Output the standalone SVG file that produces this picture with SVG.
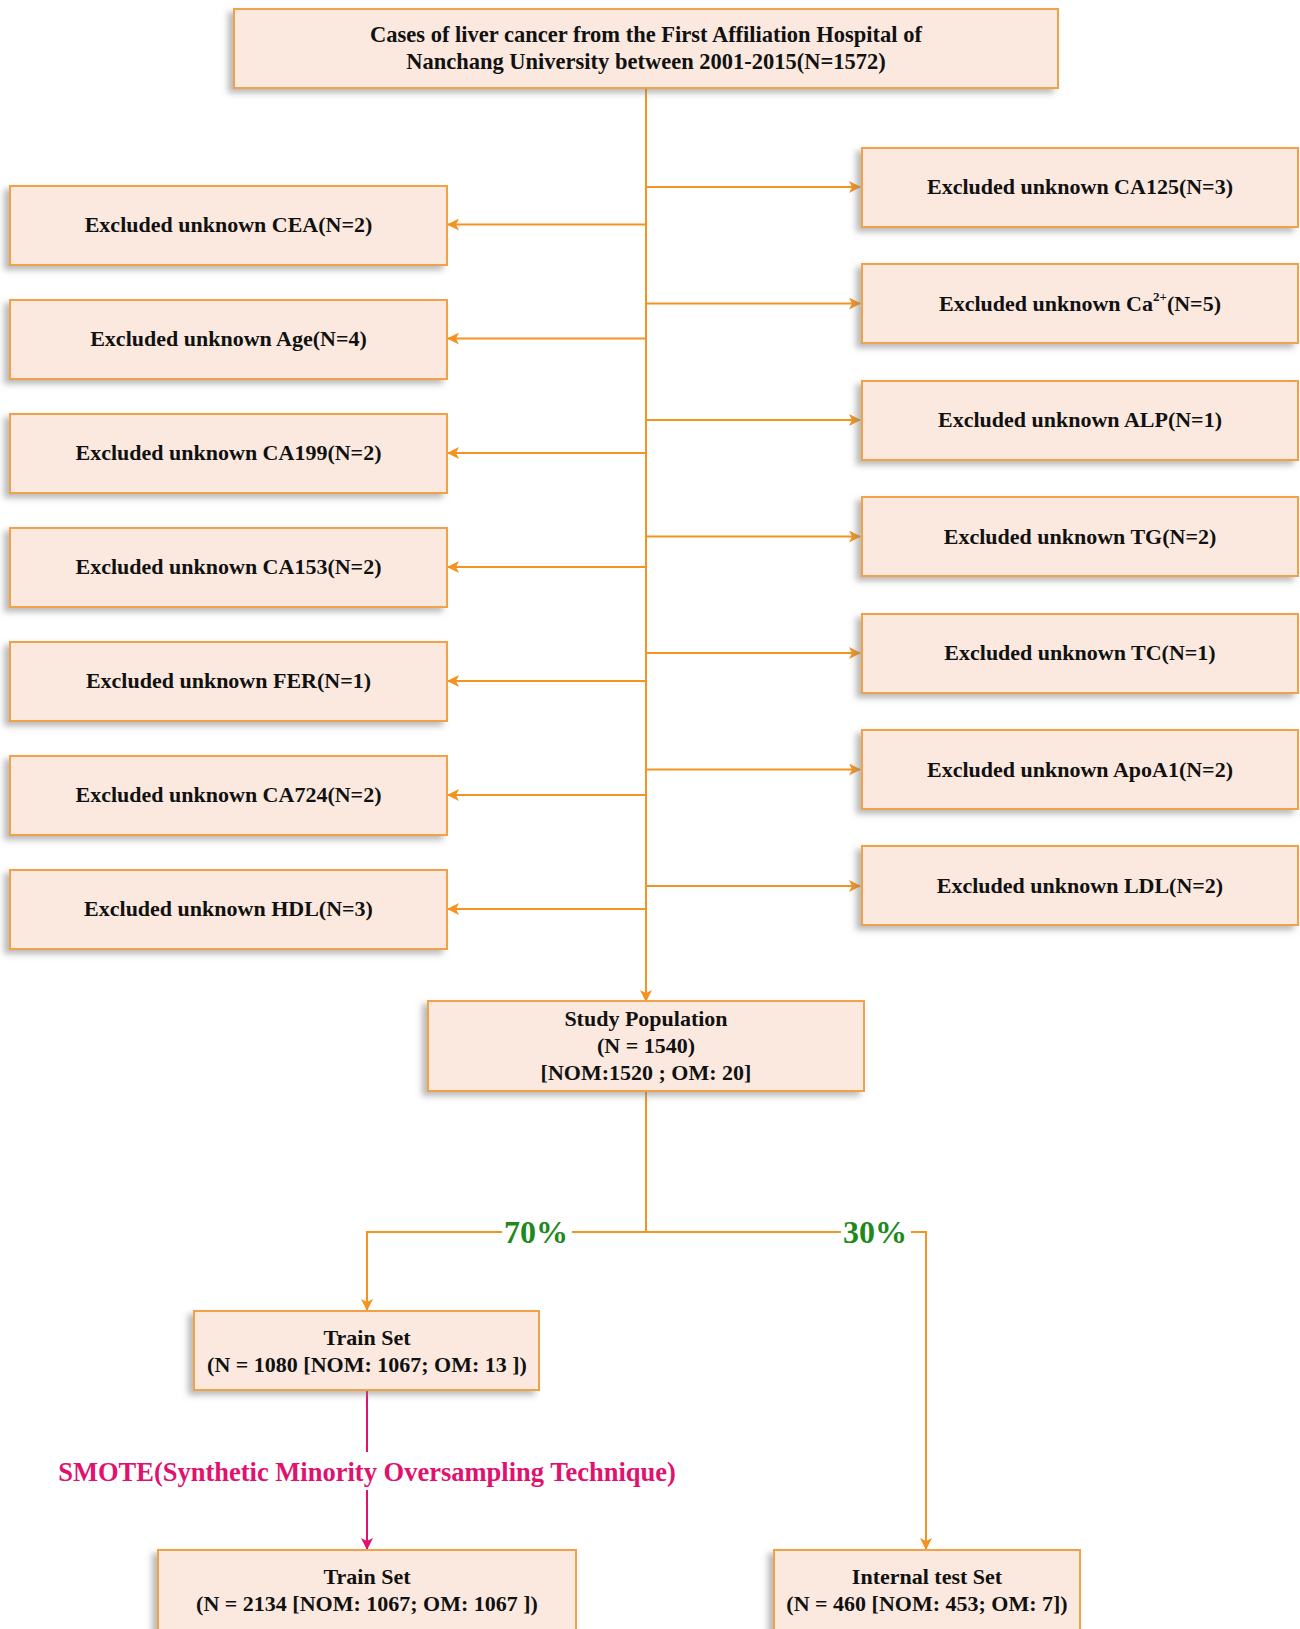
<svg xmlns="http://www.w3.org/2000/svg" width="1300" height="1629" viewBox="0 0 1300 1629">
<defs>
<filter id="sh" x="-10%" y="-20%" width="120%" height="150%">
<feDropShadow dx="-5" dy="4" stdDeviation="3" flood-color="#808080" flood-opacity="0.55"/>
</filter>
<marker id="ao" viewBox="0 0 12 12" refX="11" refY="6" markerWidth="12" markerHeight="12" markerUnits="userSpaceOnUse" orient="auto">
<path d="M0,0 L12,6 L0,12 L3,6 Z" fill="#f39322"/>
</marker>
<marker id="ap" viewBox="0 0 12 12" refX="11" refY="6" markerWidth="12" markerHeight="12" markerUnits="userSpaceOnUse" orient="auto">
<path d="M0,0 L12,6 L0,12 L3,6 Z" fill="#e0126e"/>
</marker>
</defs>
<style>
.box{fill:#fbe9df;stroke:#f0a24a;stroke-width:2;filter:url(#sh)}
.t{font-family:"Liberation Serif","Times New Roman",serif;font-weight:bold;font-size:22px;fill:#111;text-anchor:middle}
.tt{font-size:22.5px}
.c{fill:none;stroke:#f39322;stroke-width:2}
.p{fill:none;stroke:#e0126e;stroke-width:2}
.g{font-family:"Liberation Serif","Times New Roman",serif;font-weight:bold;font-size:32px;fill:#1e8a1e;text-anchor:middle}
.s{font-family:"Liberation Serif","Times New Roman",serif;font-weight:bold;font-size:26.5px;fill:#e0126e;text-anchor:middle}
</style>
<rect width="1300" height="1629" fill="#ffffff"/>
<g id="connectors">
<path class="c" d="M646,88 V1001" marker-end="url(#ao)"/>
<path class="c" d="M646,224.5 H448" marker-end="url(#ao)"/>
<path class="c" d="M646,338.5 H448" marker-end="url(#ao)"/>
<path class="c" d="M646,453 H448" marker-end="url(#ao)"/>
<path class="c" d="M646,567 H448" marker-end="url(#ao)"/>
<path class="c" d="M646,681 H448" marker-end="url(#ao)"/>
<path class="c" d="M646,795 H448" marker-end="url(#ao)"/>
<path class="c" d="M646,909 H448" marker-end="url(#ao)"/>
<path class="c" d="M646,187 H860" marker-end="url(#ao)"/>
<path class="c" d="M646,303.5 H860" marker-end="url(#ao)"/>
<path class="c" d="M646,420 H860" marker-end="url(#ao)"/>
<path class="c" d="M646,536.5 H860" marker-end="url(#ao)"/>
<path class="c" d="M646,653 H860" marker-end="url(#ao)"/>
<path class="c" d="M646,769.5 H860" marker-end="url(#ao)"/>
<path class="c" d="M646,886 H860" marker-end="url(#ao)"/>
<path class="c" d="M646,1091 V1232"/>
<path class="c" d="M646,1232 H367 V1310" marker-end="url(#ao)"/>
<path class="c" d="M646,1232 H926 V1549" marker-end="url(#ao)"/>
<path class="p" d="M367,1390 V1549" marker-end="url(#ap)"/>
<rect x="502" y="1212" width="70" height="40" fill="#fff"/>
<rect x="841" y="1212" width="70" height="40" fill="#fff"/>
<text class="g" x="536" y="1243">70%</text>
<text class="g" x="875" y="1243">30%</text>
<rect x="58" y="1452" width="618" height="38" fill="#fff"/>
<text class="s" x="367" y="1481">SMOTE(Synthetic Minority Oversampling Technique)</text>
</g>
<g id="n_top"><rect class="box" x="234" y="9" width="824" height="79"/>
<text class="t tt" x="646" y="42">Cases of liver cancer from the First Affiliation Hospital of</text>
<text class="t tt" x="646" y="69">Nanchang University between 2001-2015(N=1572)</text></g>
<g id="n_cea"><rect class="box" x="10" y="186" width="437" height="79"/><text class="t" x="228.5" y="232">Excluded unknown CEA(N=2)</text></g>
<g id="n_age"><rect class="box" x="10" y="300" width="437" height="79"/><text class="t" x="228.5" y="346">Excluded unknown Age(N=4)</text></g>
<g id="n_ca199"><rect class="box" x="10" y="414" width="437" height="79"/><text class="t" x="228.5" y="460">Excluded unknown CA199(N=2)</text></g>
<g id="n_ca153"><rect class="box" x="10" y="528" width="437" height="79"/><text class="t" x="228.5" y="574">Excluded unknown CA153(N=2)</text></g>
<g id="n_fer"><rect class="box" x="10" y="642" width="437" height="79"/><text class="t" x="228.5" y="688">Excluded unknown FER(N=1)</text></g>
<g id="n_ca724"><rect class="box" x="10" y="756" width="437" height="79"/><text class="t" x="228.5" y="802">Excluded unknown CA724(N=2)</text></g>
<g id="n_hdl"><rect class="box" x="10" y="870" width="437" height="79"/><text class="t" x="228.5" y="916">Excluded unknown HDL(N=3)</text></g>
<g id="n_ca125"><rect class="box" x="862" y="148" width="436" height="79"/><text class="t" x="1080" y="194">Excluded unknown CA125(N=3)</text></g>
<g id="n_ca2"><rect class="box" x="862" y="264" width="436" height="79"/><text class="t" x="1080" y="311">Excluded unknown Ca<tspan font-size="13" dy="-10">2+</tspan><tspan dy="10">(N=5)</tspan></text></g>
<g id="n_alp"><rect class="box" x="862" y="381" width="436" height="79"/><text class="t" x="1080" y="427">Excluded unknown ALP(N=1)</text></g>
<g id="n_tg"><rect class="box" x="862" y="497" width="436" height="79"/><text class="t" x="1080" y="544">Excluded unknown TG(N=2)</text></g>
<g id="n_tc"><rect class="box" x="862" y="614" width="436" height="79"/><text class="t" x="1080" y="660">Excluded unknown TC(N=1)</text></g>
<g id="n_apoa1"><rect class="box" x="862" y="730" width="436" height="79"/><text class="t" x="1080" y="777">Excluded unknown ApoA1(N=2)</text></g>
<g id="n_ldl"><rect class="box" x="862" y="846" width="436" height="79"/><text class="t" x="1080" y="893">Excluded unknown LDL(N=2)</text></g>
<g id="n_study"><rect class="box" x="428" y="1001" width="436" height="90"/>
<text class="t" x="646" y="1026">Study Population</text>
<text class="t" x="646" y="1053">(N = 1540)</text>
<text class="t" x="646" y="1080">[NOM:1520 ; OM: 20]</text></g>
<g id="n_train1"><rect class="box" x="194" y="1311" width="345" height="79"/>
<text class="t" x="367" y="1345">Train Set</text>
<text class="t" x="367" y="1372">(N = 1080 [NOM: 1067; OM: 13 ])</text></g>
<g id="n_train2"><rect class="box" x="158" y="1550" width="418" height="90"/>
<text class="t" x="367" y="1584">Train Set</text>
<text class="t" x="367" y="1611">(N = 2134 [NOM: 1067; OM: 1067 ])</text></g>
<g id="n_test"><rect class="box" x="774" y="1550" width="306" height="90"/>
<text class="t" x="927" y="1584">Internal test Set</text>
<text class="t" x="927" y="1611">(N = 460 [NOM: 453; OM: 7])</text></g>
</svg>
